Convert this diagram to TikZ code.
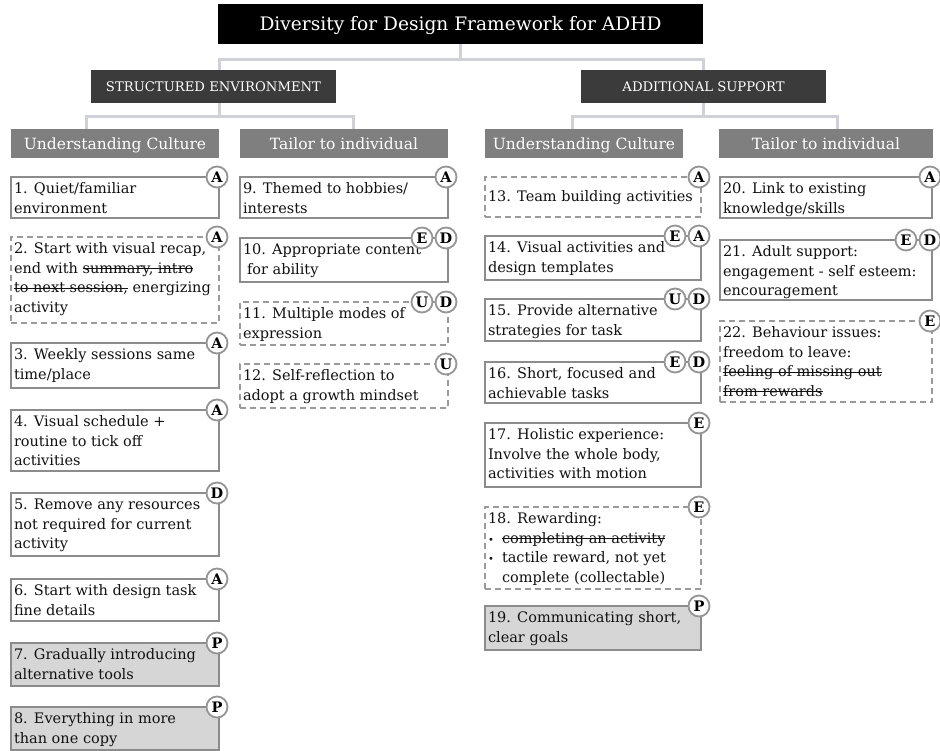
\documentclass[tikz,border=0pt]{standalone}
\usepackage{fontspec}
\setmainfont{DejaVu Serif}
\definecolor{connc}{HTML}{D0D1D8}
\definecolor{secc}{HTML}{3B3B3B}
\definecolor{subc}{HTML}{7F7F7F}
\definecolor{boxc}{HTML}{8C8C8C}
\definecolor{dashc}{HTML}{9A9A9A}
\definecolor{grayc}{HTML}{D6D6D6}
\definecolor{badgec}{HTML}{959595}
\definecolor{textc}{HTML}{111111}
\newsavebox\strkbox
\newcommand\strk[1]{\sbox\strkbox{#1}\rlap{\usebox\strkbox}\rule[0.3em]{\wd\strkbox}{0.8pt}}
\newcommand\mybox[6]{\node[#1, minimum width=#5pt, minimum height=#6pt] (#2) at (#3,#4) {};}
\newcommand\bl{\makebox[14pt][l]{\fontsize{10}{10}\selectfont\textbullet}}
\begin{document}
\begin{tikzpicture}[x=1pt,y=-1pt,
  conn/.style={draw=connc, line width=3pt},
  hdr/.style={text=white, inner sep=0, outer sep=0, anchor=north west, text depth=0pt},
  titlebox/.style={hdr, fill=black, font=\fontsize{18.6}{23}\selectfont, text height=13.6pt},
  secbox/.style={hdr, fill=secc, font=\fontsize{13.2}{16}\selectfont, text height=9.6pt},
  subbox/.style={hdr, fill=subc, font=\fontsize{15.5}{19}\selectfont, text height=11.3pt},
  ibox/.style={draw=boxc, line width=2pt, fill=white, inner sep=0, outer sep=0, anchor=north west},
  dbox/.style={ibox, draw=dashc, dash pattern=on 6pt off 4pt},
  gbox/.style={ibox, fill=grayc},
  txt/.style={inner sep=0, outer sep=0, anchor=north west, align=left, text=textc, font=\fontsize{14.5}{19.5}\selectfont},
  badge/.style={circle, draw=badgec, line width=1.8pt, fill=white, minimum size=21pt, inner sep=0, font=\bfseries\fontsize{14.5}{14.5}\selectfont, text=black},
]
\useasboundingbox[fill=white] (0,0) rectangle (940,751);

% headers
\node[titlebox, minimum width=485pt, minimum height=40pt] (title) at (218,4) {Diversity for Design Framework for ADHD};
\node[secbox, minimum width=245pt, minimum height=33pt] (se) at (91,70) {STRUCTURED ENVIRONMENT};
\node[secbox, minimum width=245pt, minimum height=33pt] (as) at (581,70) {ADDITIONAL SUPPORT};
\node[subbox, minimum width=208pt, minimum height=29pt] (ucL) at (11,129) {Understanding Culture};
\node[subbox, minimum width=208pt, minimum height=29pt] (tiL) at (240,129) {Tailor to individual};
\node[subbox, minimum width=198pt, minimum height=29pt] (ucR) at (485,129) {Understanding Culture};
\node[subbox, minimum width=214pt, minimum height=29pt] (tiR) at (719,129) {Tailor to individual};

% connectors
\draw[conn] (title.south) -- ++(0,16);
\draw[conn] ([xshift=5.5pt]se.north) -- ++(0,-10) -| (as.north);
\draw[conn] ([xshift=5.5pt]se.south) -- ++(0,14);
\draw[conn] ([xshift=-29pt]ucL.north) -- ++(0,-12) -| ([xshift=9pt]tiL.north);
\draw[conn] (as.south) -- ++(0,14);
\draw[conn] ([xshift=-12pt]ucR.north) -- ++(0,-12) -| ([xshift=11pt]tiR.north);

% left: understanding culture
\mybox{ibox}{b1}{11}{177}{208}{41}
\mybox{dbox}{b2}{11}{237}{208}{86}
\mybox{ibox}{b3}{11}{343}{208}{45}
\mybox{ibox}{b4}{11}{410}{208}{61}
\mybox{ibox}{b5}{11}{493}{208}{63}
\mybox{ibox}{b6}{11}{579}{208}{42}
\mybox{gbox}{b7}{11}{643}{208}{43}
\mybox{gbox}{b8}{11}{707}{208}{43}
% left: tailor
\mybox{ibox}{b9}{240}{177}{208}{41}
\mybox{ibox}{b10}{240}{238}{208}{44}
\mybox{dbox}{b11}{240}{302}{208}{43}
\mybox{dbox}{b12}{240}{364}{208}{44}
% right: understanding culture
\mybox{dbox}{b13}{485}{177}{216}{40}
\mybox{ibox}{b14}{485}{236}{216}{44}
\mybox{ibox}{b15}{485}{299}{216}{42}
\mybox{ibox}{b16}{485}{362}{216}{41}
\mybox{ibox}{b17}{485}{423}{216}{64}
\mybox{dbox}{b18}{485}{507}{216}{82}
\mybox{gbox}{b19}{485}{606}{216}{44}
% right: tailor
\mybox{ibox}{b20}{720}{177}{212}{41}
\mybox{ibox}{b21}{720}{240}{212}{60}
\mybox{dbox}{b22}{720}{321}{212}{81}

% texts
\node[txt] (t1) at ([shift={(3pt,-3.3pt)}]b1.north west) {\strut 1. Quiet/familiar\\environment};
\node[txt] (t2) at ([shift={(3pt,-3.3pt)}]b2.north west) {\strut 2. Start with visual recap,\\end with \strk{summary, intro}\\\strk{to next session,} energizing\\activity};
\node[txt] (t3) at ([shift={(3pt,-3.3pt)}]b3.north west) {\strut 3. Weekly sessions same\\time/place};
\node[txt] (t4) at ([shift={(3pt,-3.3pt)}]b4.north west) {\strut 4. Visual schedule +\\routine to tick off\\activities};
\node[txt] (t5) at ([shift={(3pt,-3.3pt)}]b5.north west) {\strut 5. Remove any resources\\not required for current\\activity};
\node[txt] (t6) at ([shift={(3pt,-3.3pt)}]b6.north west) {\strut 6. Start with design task\\fine details};
\node[txt] (t7) at ([shift={(3pt,-3.3pt)}]b7.north west) {\strut 7. Gradually introducing\\alternative tools};
\node[txt] (t8) at ([shift={(3pt,-3.3pt)}]b8.north west) {\strut 8. Everything in more\\than one copy};
\node[txt] (t9) at ([shift={(3pt,-3.3pt)}]b9.north west) {\strut 9. Themed to hobbies/\\interests};
\node[txt] (t10) at ([shift={(3pt,-3.3pt)}]b10.north west) {\strut 10. Appropriate content\\\hspace*{4pt}for ability};
\node[txt] (t11) at ([shift={(3pt,-3.3pt)}]b11.north west) {\strut 11. Multiple modes of\\expression};
\node[txt] (t12) at ([shift={(3pt,-3.3pt)}]b12.north west) {\strut 12. Self-reflection to\\adopt a growth mindset};
\node[txt, anchor=west] (t13) at ([xshift=3pt,yshift=-1pt]b13.west) {\strut 13. Team building activities};
\node[txt] (t14) at ([shift={(3pt,-3.3pt)}]b14.north west) {\strut 14. Visual activities and\\design templates};
\node[txt] (t15) at ([shift={(3pt,-3.3pt)}]b15.north west) {\strut 15. Provide alternative\\strategies for task};
\node[txt] (t16) at ([shift={(3pt,-3.3pt)}]b16.north west) {\strut 16. Short, focused and\\achievable tasks};
\node[txt] (t17) at ([shift={(3pt,-3.3pt)}]b17.north west) {\strut 17. Holistic experience:\\Involve the whole body,\\activities with motion};
\node[txt] (t18) at ([shift={(3pt,-3.3pt)}]b18.north west) {\strut 18. Rewarding:\\\bl\strk{completing an activity}\\\bl tactile reward, not yet\\\hspace*{14pt}complete (collectable)};
\node[txt] (t19) at ([shift={(3pt,-3.3pt)}]b19.north west) {\strut 19. Communicating short,\\clear goals};
\node[txt] (t20) at ([shift={(3pt,-3.3pt)}]b20.north west) {\strut 20. Link to existing\\knowledge/skills};
\node[txt] (t21) at ([shift={(3pt,-3.3pt)}]b21.north west) {\strut 21. Adult support:\\engagement - self esteem:\\encouragement};
\node[txt] (t22) at ([shift={(3pt,-3.3pt)}]b22.north west) {\strut 22. Behaviour issues:\\freedom to leave:\\\strk{feeling of missing out}\\\strk{from rewards}};

% badges
\node[badge] (a1) at ([xshift=-2pt]b1.north east) {A};
\node[badge] (a2) at ([xshift=-2pt]b2.north east) {A};
\node[badge] (a3) at ([xshift=-2pt]b3.north east) {A};
\node[badge] (a4) at ([xshift=-2pt]b4.north east) {A};
\node[badge] (a5) at ([xshift=-2pt]b5.north east) {D};
\node[badge] (a6) at ([xshift=-2pt]b6.north east) {A};
\node[badge] (a7) at ([xshift=-2pt]b7.north east) {P};
\node[badge] (a8) at ([xshift=-2pt]b8.north east) {P};
\node[badge] (a9) at ([xshift=-2pt]b9.north east) {A};
\node[badge] (a10b) at ([xshift=-2pt]b10.north east) {D};
\node[badge] (a10a) at ([xshift=-26pt]b10.north east) {E};
\node[badge] (a11b) at ([xshift=-2pt]b11.north east) {D};
\node[badge] (a11a) at ([xshift=-26pt]b11.north east) {U};
\node[badge] (a12) at ([xshift=-2pt]b12.north east) {U};
\node[badge] (a13) at ([xshift=-2pt]b13.north east) {A};
\node[badge] (a14b) at ([xshift=-2pt]b14.north east) {A};
\node[badge] (a14a) at ([xshift=-26pt]b14.north east) {E};
\node[badge] (a15b) at ([xshift=-2pt]b15.north east) {D};
\node[badge] (a15a) at ([xshift=-26pt]b15.north east) {U};
\node[badge] (a16b) at ([xshift=-2pt]b16.north east) {D};
\node[badge] (a16a) at ([xshift=-26pt]b16.north east) {E};
\node[badge] (a17) at ([xshift=-2pt]b17.north east) {E};
\node[badge] (a18) at ([xshift=-2pt]b18.north east) {E};
\node[badge] (a19) at ([xshift=-2pt]b19.north east) {P};
\node[badge] (a20) at ([xshift=-2pt]b20.north east) {A};
\node[badge] (a21b) at ([xshift=-2pt]b21.north east) {D};
\node[badge] (a21a) at ([xshift=-26pt]b21.north east) {E};
\node[badge] (a22) at ([xshift=-2pt]b22.north east) {E};
\end{tikzpicture}
\end{document}
